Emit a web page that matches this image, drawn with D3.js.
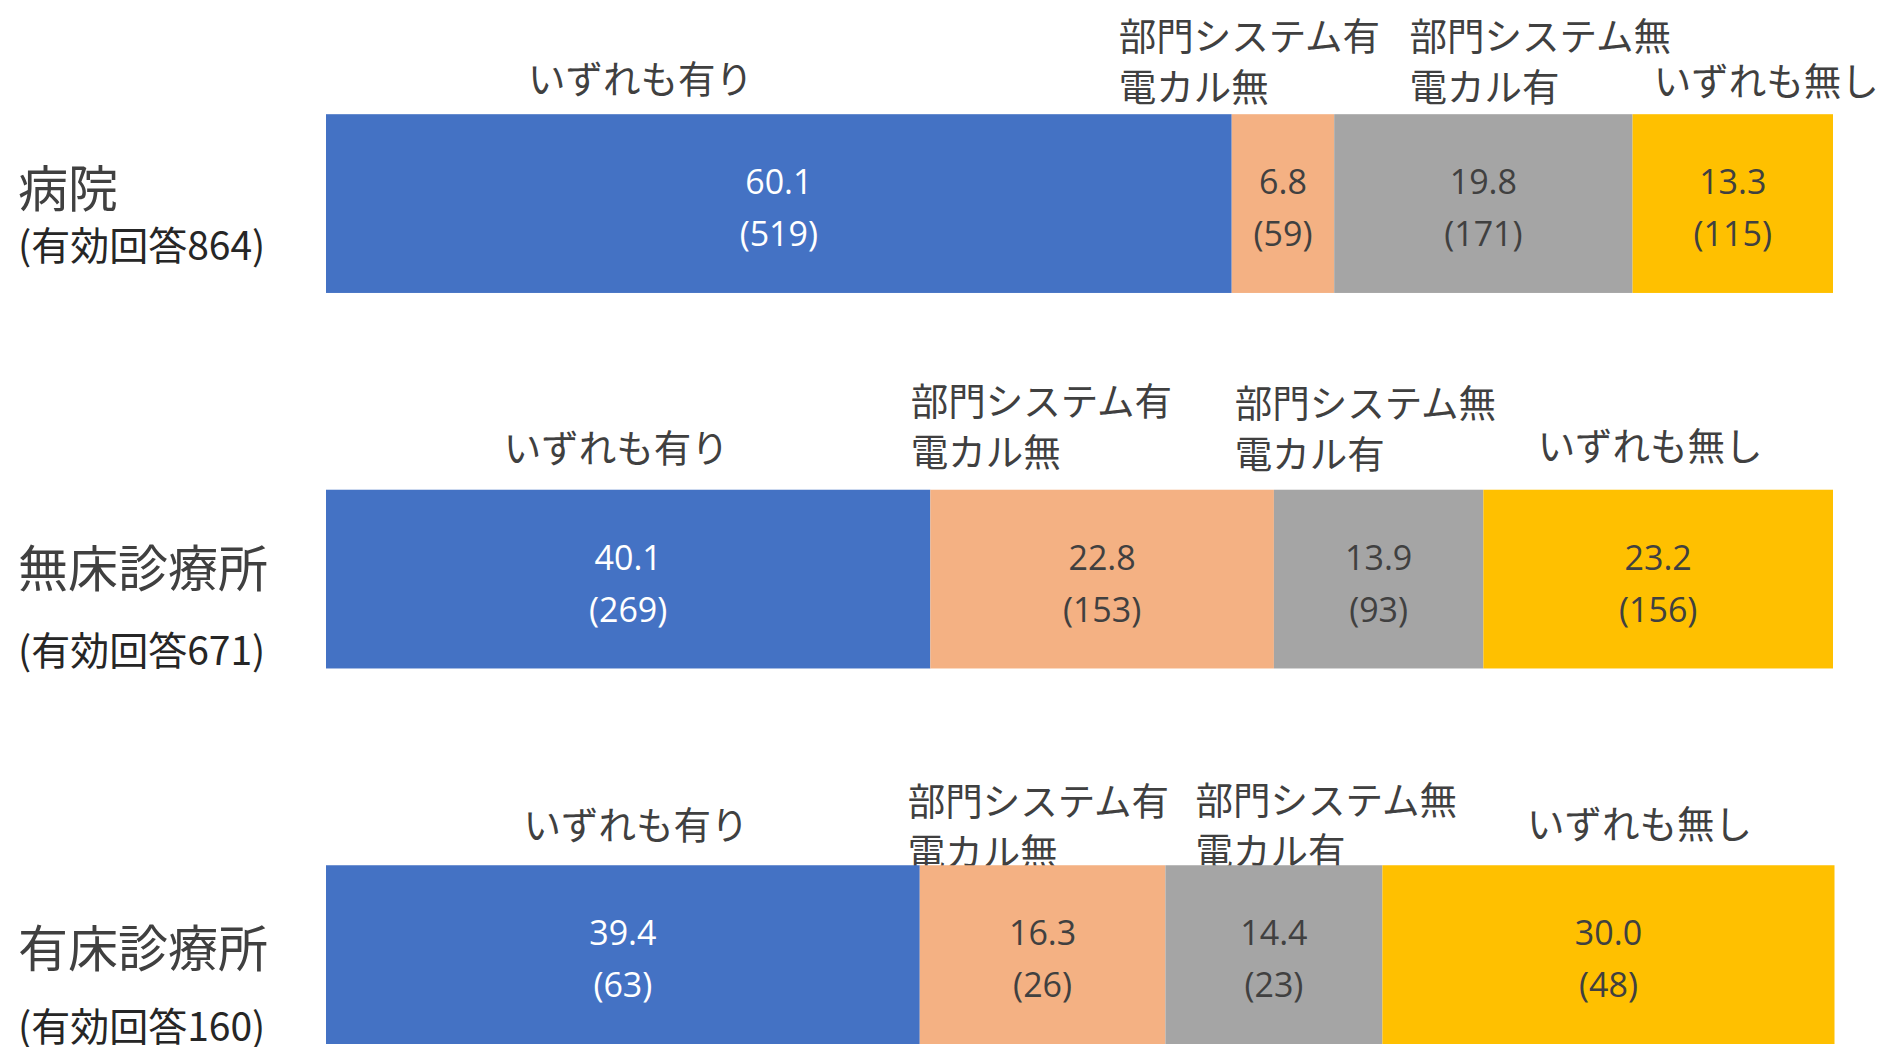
<!DOCTYPE html>
<html>
<head>
<meta charset="utf-8">
<script src="https://cdn.jsdelivr.net/npm/d3@7"></script>
<style>
  html, body { margin: 0; padding: 0; background: #ffffff; }
  svg { display: block; }
</style>
</head>
<body>
<script>
// ---- data ----
const categories = ["病院", "無床診療所", "有床診療所"];
const validResponses = [864, 671, 160];
const seriesNames = ["いずれも有り", "部門システム有\n電カル無", "部門システム無\n電カル有", "いずれも無し"];
const seriesKeys = ["both", "deptOnly", "emrOnly", "none"];
const pctBoth     = [60.1, 40.1, 39.4];
const pctDeptOnly = [6.8, 22.8, 16.3];
const pctEmrOnly  = [19.8, 13.9, 14.4];
const pctNone     = [13.3, 23.2, 30.0];
const cntBoth     = [519, 269, 63];
const cntDeptOnly = [59, 153, 26];
const cntEmrOnly  = [171, 93, 23];
const cntNone     = [115, 156, 48];

// ---- layout / style (not data) ----
const W = 1893, H = 1047;
const colors = ["#4472C4", "#F4B183", "#A5A5A5", "#FFC000"];
const labelColors = ["#ffffff", "#404040", "#404040", "#404040"];
// header anchor per category & series: [x in % units along bar, centre offset of first line from bar top]
const headerLayout = [
  [[13.4, -38], [52.6, -81], [71.9, -81], [88.1, -36]],
  [[11.8, -45], [38.8, -92], [60.3, -90], [80.4, -47]],
  [[13.1, -43], [38.6, -67], [57.7, -68], [79.7, -44]]
];
// category label centre offsets from bar top: [main, sub]
const catLabelLayout = [[71, 129], [75, 158], [80, 159]];

const pcts = [pctBoth, pctDeptOnly, pctEmrOnly, pctNone];
const cnts = [cntBoth, cntDeptOnly, cntEmrOnly, cntNone];
const table = categories.map((c, i) => {
  const row = { category: c };
  seriesKeys.forEach((k, j) => { row[k] = pcts[j][i]; row[k + "_n"] = cnts[j][i]; });
  return row;
});
const stacked = d3.stack().keys(seriesKeys)(table);

const x = d3.scaleLinear().domain([0, 100]).range([326, 1833]);
const y = d3.scaleBand().domain(categories).range([114.2, 1044]).paddingInner(0.524).paddingOuter(0);

const svg = d3.select("body").append("svg").attr("width", W).attr("height", H)
  .style("background", "#ffffff");

const cjk = "'Noto Sans CJK JP', 'Noto Sans', sans-serif";
const num = "'Open Sans', 'Liberation Sans', sans-serif";

// headers above each segment
categories.forEach((c, ci) => {
  seriesNames.forEach((s, si) => {
    const [px, dy] = headerLayout[ci][si];
    const lines = s.split("\n");
    const t = svg.append("text")
      .attr("x", x(px))
      .attr("y", y(c) + dy)
      .attr("dominant-baseline", "central")
      .attr("font-family", cjk)
      .attr("font-size", 37.5)
      .attr("fill", "#404040");
    lines.forEach((ln, li) => {
      t.append("tspan").attr("x", x(px)).attr("dy", li === 0 ? 0 : 51).text(ln);
    });
  });
});

// bars
const groups = svg.selectAll("g.series").data(stacked).join("g")
  .attr("class", "series")
  .attr("fill", (d, i) => colors[i]);

groups.selectAll("rect").data(d => d).join("rect")
  .attr("x", d => x(d[0]))
  .attr("y", d => y(d.data.category))
  .attr("width", d => x(d[1]) - x(d[0]))
  .attr("height", y.bandwidth());

// value labels
stacked.forEach((ser, si) => {
  const g = svg.append("g")
    .attr("font-family", num)
    .attr("font-size", 34)
    .attr("fill", labelColors[si])
    .attr("text-anchor", "middle");
  ser.forEach(d => {
    const cx = (x(d[0]) + x(d[1])) / 2;
    const top = y(d.data.category);
    g.append("text").attr("x", cx).attr("y", top + 80)
      .text(d3.format(".1f")(d.data[ser.key]));
    g.append("text").attr("x", cx).attr("y", top + 132)
      .text("(" + d.data[ser.key + "_n"] + ")");
  });
});

// category labels
categories.forEach((c, ci) => {
  const [m, s] = catLabelLayout[ci];
  svg.append("text")
    .attr("x", 18).attr("y", y(c) + m)
    .attr("dominant-baseline", "central")
    .attr("font-family", cjk).attr("font-size", 50)
    .attr("fill", "#404040")
    .text(c);
  svg.append("text")
    .attr("x", 18).attr("y", y(c) + s)
    .attr("dominant-baseline", "central")
    .attr("font-family", cjk).attr("font-size", 39)
    .attr("fill", "#262626")
    .text("(有効回答" + validResponses[ci] + ")");
});
</script>
</body>
</html>
